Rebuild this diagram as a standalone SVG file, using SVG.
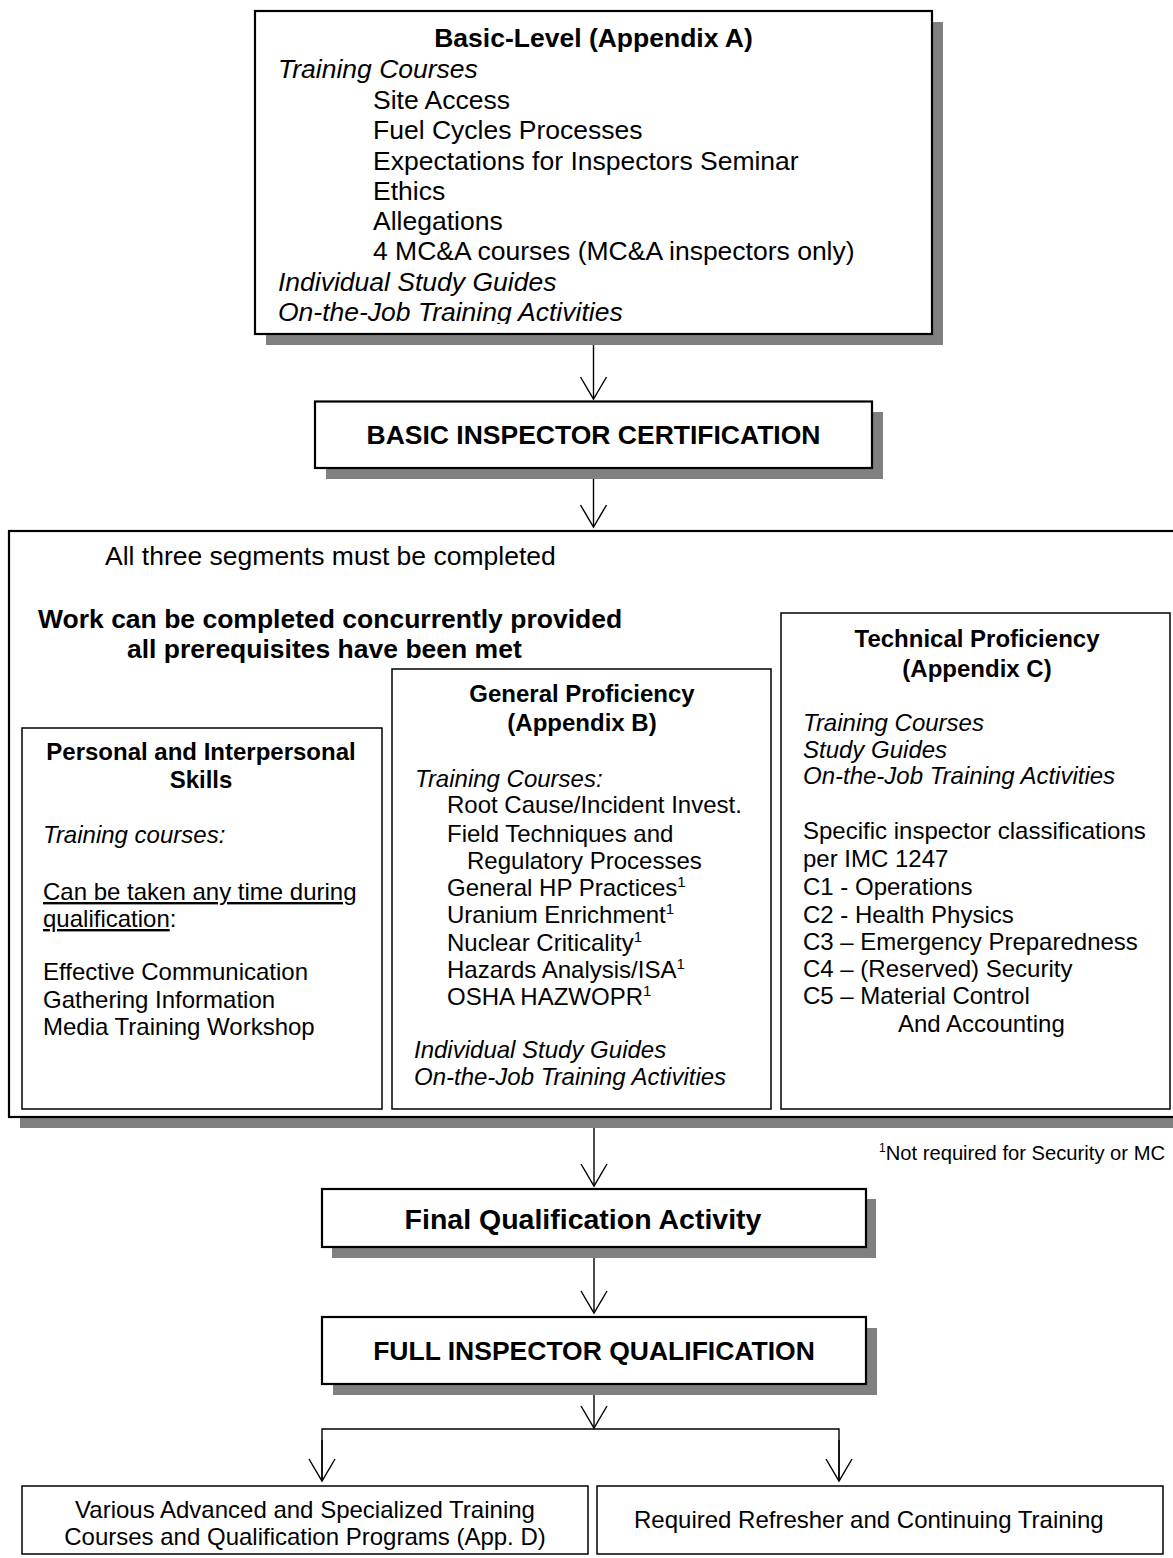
<svg xmlns="http://www.w3.org/2000/svg" width="1173" height="1558" viewBox="0 0 1173 1558">
<defs>
<style>
text{font-family:"Liberation Sans",Arial,sans-serif;fill:#000}
.t26{font-size:26.5px}
.t24{font-size:24px}
.b{font-weight:bold}
.i{font-style:italic}
.m{text-anchor:middle}
.sh{fill:#808080}
.box2{fill:#fff;stroke:#000;stroke-width:2.2}
.box1{fill:#fff;stroke:#000;stroke-width:1.5}
.con{stroke:#000;stroke-width:1.4;fill:none}
.u{text-decoration:underline}
.sup{font-size:15px}
</style>
<marker id="v" markerUnits="userSpaceOnUse" markerWidth="30" markerHeight="30" refX="22" refY="14" orient="auto" overflow="visible">
<path d="M0,1 L22,14 L0,27" fill="none" stroke="#000" stroke-width="1.4"/>
</marker>
<clipPath id="clipTop"><rect x="255" y="11" width="677" height="313"/></clipPath>
</defs>
<rect width="1173" height="1558" fill="#fff"/>

<g id="basic-level">
<rect class="sh" x="266" y="22" width="677" height="323"/>
<rect class="box2" x="255" y="11" width="677" height="323"/>
<g clip-path="url(#clipTop)">
<text class="t26 b m" x="593.5" y="47">Basic-Level (Appendix A)</text>
<text class="t26 i" x="278" y="78">Training Courses</text>
<text class="t26" x="373" y="109">Site Access</text>
<text class="t26" x="373" y="139">Fuel Cycles Processes</text>
<text class="t26" x="373" y="170">Expectations for Inspectors Seminar</text>
<text class="t26" x="373" y="200">Ethics</text>
<text class="t26" x="373" y="230">Allegations</text>
<text class="t26" x="373" y="260">4 MC&amp;A courses (MC&amp;A inspectors only)</text>
<text class="t26 i" x="278" y="291">Individual Study Guides</text>
<text class="t26 i" x="278" y="321">On-the-Job Training Activities</text>
</g>
</g>

<g id="basic-cert">
<rect class="sh" x="326" y="412" width="557" height="67"/>
<rect class="box2" x="315" y="401.5" width="557" height="66.5"/>
<text class="t26 b m" x="593.5" y="444">BASIC INSPECTOR CERTIFICATION</text>
</g>

<g id="segments">
<rect class="sh" x="20" y="542" width="1180" height="586"/>
<rect class="box2" x="9" y="531" width="1180" height="586"/>
<text class="t26" x="105" y="565">All three segments must be completed</text>
<text class="t26 b" x="38" y="628">Work can be completed concurrently provided</text>
<text class="t26 b" x="127" y="658">all prerequisites have been met</text>
</g>

<g id="personal">
<rect class="box1" x="22" y="728" width="360" height="381"/>
<text class="t24 b m" x="201" y="760">Personal and Interpersonal</text>
<text class="t24 b m" x="201" y="788">Skills</text>
<text class="t24 i" x="43" y="843">Training courses:</text>
<text class="t24" x="43" y="900"><tspan class="u">Can be taken any time during</tspan></text>
<text class="t24" x="43" y="927"><tspan class="u">qualification</tspan>:</text>
<text class="t24" x="43" y="980">Effective Communication</text>
<text class="t24" x="43" y="1008">Gathering Information</text>
<text class="t24" x="43" y="1035">Media Training Workshop</text>
</g>

<g id="general">
<rect class="box1" x="392" y="669" width="379" height="440"/>
<text class="t24 b m" x="582" y="702">General Proficiency</text>
<text class="t24 b m" x="582" y="731">(Appendix B)</text>
<text class="t24 i" x="415" y="787">Training Courses:</text>
<text class="t24" x="447" y="813">Root Cause/Incident Invest.</text>
<text class="t24" x="447" y="842">Field Techniques and</text>
<text class="t24" x="467" y="869">Regulatory Processes</text>
<text class="t24" x="447" y="896">General HP Practices<tspan class="sup" dy="-9">1</tspan></text>
<text class="t24" x="447" y="923">Uranium Enrichment<tspan class="sup" dy="-9">1</tspan></text>
<text class="t24" x="447" y="951">Nuclear Criticality<tspan class="sup" dy="-9">1</tspan></text>
<text class="t24" x="447" y="978">Hazards Analysis/ISA<tspan class="sup" dy="-9">1</tspan></text>
<text class="t24" x="447" y="1005">OSHA HAZWOPR<tspan class="sup" dy="-9">1</tspan></text>
<text class="t24 i" x="414" y="1058">Individual Study Guides</text>
<text class="t24 i" x="414" y="1085">On-the-Job Training Activities</text>
</g>

<g id="technical">
<rect class="box1" x="781" y="613" width="389" height="496"/>
<text class="t24 b m" x="977" y="647">Technical Proficiency</text>
<text class="t24 b m" x="977" y="677">(Appendix C)</text>
<text class="t24 i" x="803" y="731">Training Courses</text>
<text class="t24 i" x="803" y="758">Study Guides</text>
<text class="t24 i" x="803" y="784">On-the-Job Training Activities</text>
<text class="t24" x="803" y="839">Specific inspector classifications</text>
<text class="t24" x="803" y="867">per IMC 1247</text>
<text class="t24" x="803" y="895">C1 - Operations</text>
<text class="t24" x="803" y="923">C2 - Health Physics</text>
<text class="t24" x="803" y="950">C3 – Emergency Preparedness</text>
<text class="t24" x="803" y="977">C4 – (Reserved) Security</text>
<text class="t24" x="803" y="1004">C5 – Material Control</text>
<text class="t24" x="898" y="1032">And Accounting</text>
</g>

<g id="footnote">
<text x="879" y="1160" font-size="20.2"><tspan font-size="12" dy="-8">1</tspan><tspan dy="8">Not required for Security or MC</tspan></text>
</g>

<g id="final-activity">
<rect class="sh" x="332" y="1199" width="544" height="59"/>
<rect class="box2" x="322" y="1189" width="544" height="58"/>
<text class="b m" x="583" y="1229" font-size="28.5">Final Qualification Activity</text>
</g>

<g id="full-qual">
<rect class="sh" x="333" y="1328" width="544" height="67"/>
<rect class="box2" x="322" y="1317" width="544" height="67"/>
<text class="t26 b m" x="594" y="1360">FULL INSPECTOR QUALIFICATION</text>
</g>

<g id="advanced">
<rect class="box1" x="22" y="1486" width="566" height="68"/>
<text class="t24 m" x="305" y="1518">Various Advanced and Specialized Training</text>
<text class="t24 m" x="305" y="1545">Courses and Qualification Programs (App. D)</text>
</g>

<g id="refresher">
<rect class="box1" x="597" y="1486" width="566" height="68"/>
<text class="t24" x="634" y="1528">Required Refresher and Continuing Training</text>
</g>

<g id="connectors">
<line class="con" x1="593.5" y1="345" x2="593.5" y2="399" marker-end="url(#v)"/>
<line class="con" x1="593.5" y1="479" x2="593.5" y2="527" marker-end="url(#v)"/>
<line class="con" x1="594" y1="1128" x2="594" y2="1186" marker-end="url(#v)"/>
<line class="con" x1="594" y1="1258" x2="594" y2="1313" marker-end="url(#v)"/>
<line class="con" x1="594" y1="1395" x2="594" y2="1428" marker-end="url(#v)"/>
<polyline class="con" points="322,1481 322,1429 839,1429 839,1481"/>
<line class="con" x1="322" y1="1440" x2="322" y2="1481" marker-end="url(#v)"/>
<line class="con" x1="839" y1="1440" x2="839" y2="1481" marker-end="url(#v)"/>
</g>
</svg>
